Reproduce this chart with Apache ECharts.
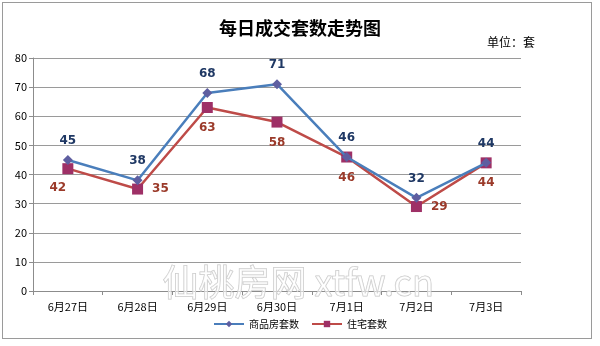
<!DOCTYPE html>
<html><head><meta charset="utf-8">
<script src="https://cdn.jsdelivr.net/npm/echarts@6/dist/echarts.min.js"></script>
<style>
html,body{margin:0;padding:0;background:#fff;}
#frame{position:absolute;left:2px;top:2px;width:588px;height:335px;border:1px solid #9a9a9a;}
#c{position:absolute;left:0;top:0;width:600px;height:346px;}
</style></head>
<body>
<div id="frame"></div>
<div id="c"></div>
<script>
const categories = ['6月27日','6月28日','6月29日','6月30日','7月1日','7月2日','7月3日'];
const commercial = [45, 38, 68, 71, 46, 32, 44];
const residential = [42, 35, 63, 58, 46, 29, 44];
const yTicks = [0, 10, 20, 30, 40, 50, 60, 70, 80];
const resLabelPos = ['bottom','right','bottom','bottom','bottom','right','bottom'];

const chart = echarts.init(document.getElementById('c'), null, {renderer:'canvas'});
const font = '"Noto Sans CJK SC", "DejaVu Sans", sans-serif';
chart.setOption({
  backgroundColor: 'transparent',
  animation: false,
  textStyle: {fontFamily: font},
  title: {
    text: '每日成交套数走势图', left: 'center', top: 14,
    textStyle: {fontSize: 18, fontWeight: 'bold', color: '#000', fontFamily: font}
  },
  graphic: [
    {type:'text', left: 487, top: 36, style:{text:'单位：套', font:'12px '+font, fill:'#000'}},
    {type:'text', left: 162, top: 264, z: 100, style:{text:'仙桃房网 xtfw.cn', font:'36px "Noto Sans CJK SC", "Liberation Serif", serif', fill:'rgba(255,255,255,0.55)', stroke:'#c4c4c4', lineWidth:1}}
  ],
  grid: {left: 33, right: 79, top: 58, bottom: 55, containLabel: false},
  legend: {
    bottom: 12, left: 'center', itemWidth: 30, itemHeight: 8, itemGap: 12,
    textStyle: {fontSize: 10, color: '#000', fontFamily: font},
    data: ['商品房套数', '住宅套数']
  },
  xAxis: {
    type: 'category', data: categories, boundaryGap: true,
    axisLine: {lineStyle: {color: '#8c8c8c'}},
    axisTick: {show: true, alignWithLabel: false, length: 4, lineStyle: {color:'#8c8c8c'}},
    axisLabel: {color: '#000', fontSize: 11, margin: 10}
  },
  yAxis: {
    type: 'value', min: yTicks[0], max: yTicks[yTicks.length-1], interval: 10,
    axisLine: {show: true, lineStyle: {color: '#8c8c8c'}},
    axisTick: {show: true, length: 4, lineStyle: {color:'#8c8c8c'}},
    axisLabel: {color: '#000', fontSize: 11, margin: 6},
    splitLine: {lineStyle: {color: '#9a9a9a', width: 1}}
  },
  series: [
    {
      name: '商品房套数', type: 'line', data: commercial,
      symbol: 'diamond', symbolSize: 10,
      lineStyle: {color: '#4a7ebb', width: 2.5},
      itemStyle: {color: '#5e5ea0', borderWidth: 0},
      label: {show: true, position: 'top', distance: 8, color: '#1f3864', fontWeight: 'bold', fontSize: 12, fontFamily: '"DejaVu Sans", sans-serif'},
      z: 3
    },
    {
      name: '住宅套数', type: 'line',
      data: residential.map((v,i)=>({value:v, label:{position: resLabelPos[i], offset: i===0 ? [-10,-1] : [0,0]}})),
      symbol: 'rect', symbolSize: 11,
      lineStyle: {color: '#be4b48', width: 2.5},
      itemStyle: {color: '#9e3066', borderWidth: 0},
      label: {show: true, position: 'bottom', distance: 9, color: '#9b3a2a', fontWeight: 'bold', fontSize: 12, fontFamily: '"DejaVu Sans", sans-serif'},
      z: 2
    }
  ]
});
</script>
</body></html>
